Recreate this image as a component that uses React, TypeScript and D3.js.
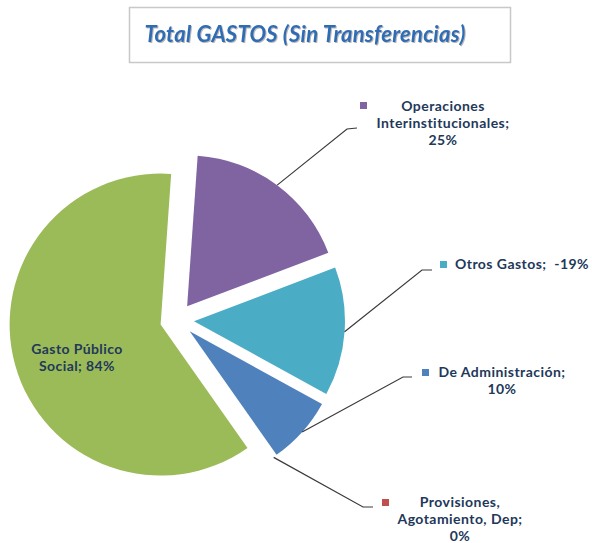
import React from "react";
import * as d3 from "d3";

const categories = [
  "Operaciones Interinstitucionales",
  "Otros Gastos",
  "De Administración",
  "Provisiones, Agotamiento, Dep",
  "Gasto Público Social",
];
const percents = [25, -19, 10, 0, 84];
const colors = ["#8064A2", "#4BACC6", "#4F81BD", "#C0504D", "#9BBB59"];
const labelLines = [
  ["Operaciones", "Interinstitucionales;", "25%"],
  ["Otros Gastos;  -19%"],
  ["De Administración;", "10%"],
  ["Provisiones,", "Agotamiento, Dep;", "0%"],
  ["Gasto Público", "Social; 84%"],
];
const title = "Total GASTOS (Sin Transferencias)";

const W = 592;
const H = 543;
const cx = 177;
const cy = 320;
const R = 151;
const explode = 17;
const startDeg = 4;

// label layout (positions only)
const labelLayout = [
  { elbow: [347, 129], end: [357, 128], marker: [360, 102], anchor: "middle", tx: 443, ty: 111, lh: 17 },
  { elbow: [422, 270], end: [432, 270], marker: [440, 261], anchor: "start", tx: 455, ty: 268.5, lh: 17 },
  { elbow: [403, 377], end: [412, 377], marker: [422, 369], anchor: "middle", tx: 502, ty: 376.5, lh: 17 },
  { elbow: [363, 507], end: [373, 507], marker: [382, 499], anchor: "middle", tx: 460, ty: 507, lh: 17 },
  null,
];

const textColor = "#22385A";
const font = "Lato, 'Open Sans', sans-serif";

export default function App() {
  const pie = d3
    .pie<number>()
    .sort(null)
    .value((d) => Math.abs(d))
    .startAngle((startDeg * Math.PI) / 180)
    .endAngle((startDeg * Math.PI) / 180 + 2 * Math.PI);
  const arcs = pie(percents);
  const arc = d3.arc<d3.PieArcDatum<number>>().innerRadius(0).outerRadius(R);

  return (
    <svg
      width={W}
      height={H}
      style={{ position: "absolute", left: 0, top: 0, background: "#fff" }}
      fontFamily={font}
    >
      <defs>
        <filter id="ts" x="-5%" y="-20%" width="110%" height="140%">
          <feDropShadow dx="1" dy="1" stdDeviation="0.6" floodColor="#888" floodOpacity="0.6" />
        </filter>
      </defs>
      <rect x={129.5} y={7.5} width={381} height={55} fill="#fff" stroke="#c8c8c8" strokeWidth={1.5} />
      <text
        x={305}
        y={42}
        textAnchor="middle"
        fontSize={22}
        letterSpacing={0.25}
        fontWeight="bold"
        fontStyle="italic"
        fill="#2E6DB4"
        filter="url(#ts)"
      >
        {title}
      </text>

      {arcs.map((a, i) => {
        const mid = (a.startAngle + a.endAngle) / 2;
        const dx = Math.sin(mid) * explode;
        const dy = -Math.cos(mid) * explode;
        if (a.endAngle - a.startAngle <= 0) return null;
        return (
          <path
            key={categories[i]}
            d={arc(a) || ""}
            transform={`translate(${cx + dx},${cy + dy})`}
            fill={colors[i]}
          />
        );
      })}

      {arcs.map((a, i) => {
        const L = labelLayout[i];
        const lines = labelLines[i];
        if (!L) {
          return (
            <text key={"lbl" + i} textAnchor="middle" fontSize={14} letterSpacing={0.4} fontWeight="bold" fill={textColor}>
              {lines.map((s, k) => (
                <tspan key={k} x={77} y={354 + k * 17}>
                  {s}
                </tspan>
              ))}
            </text>
          );
        }
        const mid = (a.startAngle + a.endAngle) / 2;
        const r0 = R + explode;
        const sx = cx + Math.sin(mid) * r0;
        const sy = cy - Math.cos(mid) * r0;
        return (
          <g key={"lbl" + i}>
            <polyline
              points={`${sx},${sy} ${L.elbow[0]},${L.elbow[1]} ${L.end[0]},${L.end[1]}`}
              fill="none"
              stroke="#3a3a3a"
              strokeWidth={1.2}
            />
            <rect x={L.marker[0]} y={L.marker[1]} width={7} height={7} fill={colors[i]} />
            <text textAnchor={L.anchor} fontSize={14} letterSpacing={0.45} fontWeight="bold" fill={textColor}>
              {lines.map((s, k) => (
                <tspan key={k} x={L.tx} y={L.ty + k * L.lh} xmlSpace="preserve">
                  {s}
                </tspan>
              ))}
            </text>
          </g>
        );
      })}
    </svg>
  );
}
